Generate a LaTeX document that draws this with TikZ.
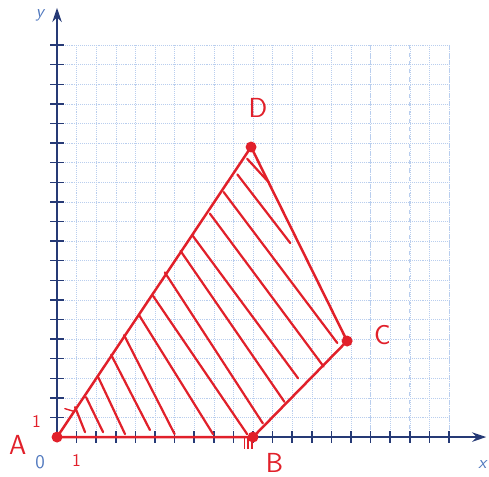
\documentclass[tikz,border=0pt]{standalone}
\usepackage{xcolor}
\usepackage{tikz}
\usetikzlibrary{arrows.meta}
\definecolor{pen}{RGB}{225,32,42}
\definecolor{ink}{RGB}{38,58,118}
\definecolor{gridblue}{RGB}{185,206,238}
\definecolor{labelblue}{RGB}{80,120,190}

\begin{document}
\begin{tikzpicture}[x=0.5cm,y=0.5cm,>={Stealth[length=3.6mm,width=2.4mm]},thick,
  vertex/.style={circle,fill=pen,inner sep=0pt,minimum size=2.8mm},
  redlab/.style={text=pen,font=\sffamily\fontsize{20}{20}\selectfont},
  onelab/.style={text=pen,font=\sffamily\fontsize{13}{13}\selectfont},
  axislab/.style={text=labelblue,font=\sffamily\itshape\fontsize{13}{13}\selectfont},
  hatch/.style={pen,line width=1.6pt,line cap=round}]
  \useasboundingbox (-2.91,-1.99) rectangle (22.04,22.30);
  % squared paper
  \draw[gridblue,thin,densely dotted,step=0.5cm] (0,0) grid (20,20);
  \foreach \k in {16,18,20}
    \draw[gridblue,semithick,dashed] (\k,0) -- (\k,20);
  % axes
  \coordinate (O) at (0,0);
  \coordinate (xend) at (21.9,0);
  \coordinate (yend) at (0,21.9);
  \draw[ink,->,line width=1.8pt] (O) -- (xend);
  \draw[ink,->,line width=1.8pt] (O) -- (yend);
  \foreach \k in {1,...,20} {
    \draw[ink,line width=1.1pt] (\k,-0.3) -- (\k,0.3);
    \draw[ink,line width=1.1pt] (-0.35,\k) -- (0.35,\k);
  }
  \node[axislab] (ylab) at (-0.87,21.5) {y};
  \node[axislab] (xlab) at (21.7,-1.4) {x};
  \node[text=labelblue,font=\sffamily\fontsize{14}{14}\selectfont] (zero) at (-0.87,-1.3) {0};
  \node[onelab] (onex) at (1.0,-1.2) {1};
  \node[onelab] (oney) at (-1.05,0.8) {1};
  % the quadrilateral
  \node[vertex] (A) at (0,0) {};
  \node[vertex] (B) at (10,0) {};
  \node[vertex] (C) at (14.8,4.9) {};
  \node[vertex] (D) at (9.9,14.8) {};
  \draw[pen,line width=1.8pt,line join=round] (A.center) -- (B.center) -- (C.center) -- (D.center) -- cycle;
  \node[redlab] (Alab) at (-2.0,-0.4) {A};
  \node[redlab] (Blab) at (11.1,-1.3) {B};
  \node[redlab] (Clab) at (16.6,5.2) {C};
  \node[redlab] (Dlab) at (10.25,16.8) {D};
  % hatching
  \foreach \a/\b/\c/\d in {0.92/1.53/1.43/0.25, 1.48/2.04/2.35/0.25, 2.1/3.06/3.47/0.15,
      2.76/4.2/4.74/0.36, 3.42/5.2/6.0/0.15, 4.2/6.2/7.96/0.15, 4.9/7.2/9.7/0.15,
      5.5/8.4/10.5/0.7, 6.3/9.5/11.6/1.8, 6.9/10.3/12.3/3.0, 7.8/11.4/13.6/3.6,
      8.5/12.5/14.3/4.8, 9.2/13.4/11.9/9.9, 9.7/14.2/10.8/13.0}
    \draw[hatch] (\a,\b) -- (\c,\d);
  \draw[hatch,line width=1pt] (0.4,1.45) -- (0.9,1.3);
  \foreach \s in {9.55,9.75,9.95}
    \draw[pen,line width=1pt] (\s,0) -- (\s,-0.6);
\end{tikzpicture}
\end{document}
